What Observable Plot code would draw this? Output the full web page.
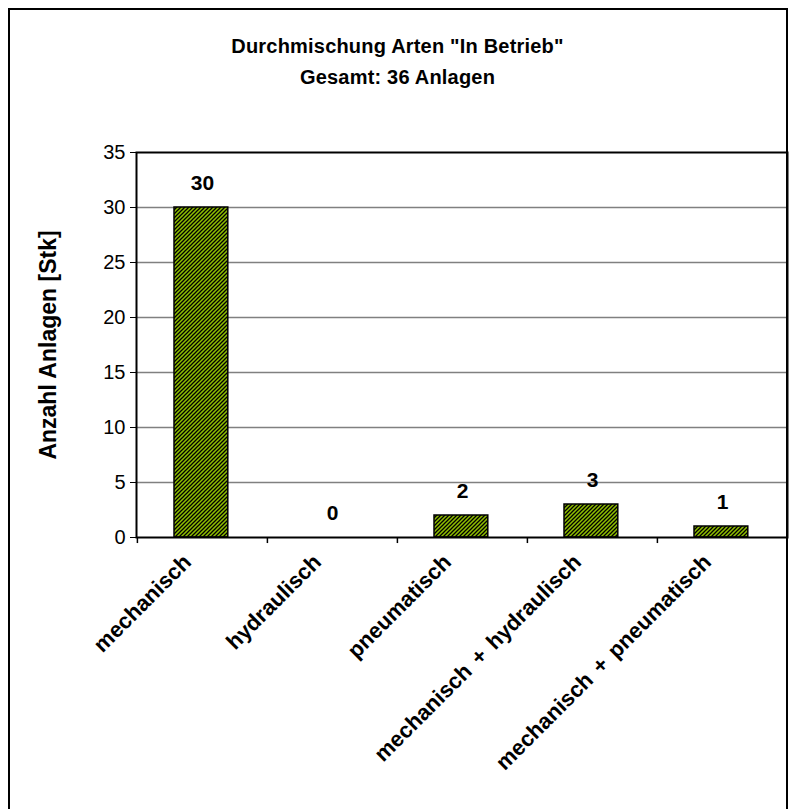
<!DOCTYPE html>
<html>
<head>
<meta charset="utf-8">
<script src="https://cdn.jsdelivr.net/npm/d3@7"></script>
<script src="https://cdn.jsdelivr.net/npm/@observablehq/plot@0.6"></script>
<style>
  html, body { margin: 0; padding: 0; background: #fff; }
  body { width: 795px; height: 809px; position: relative; overflow: hidden; font-family: "Liberation Sans", Arial, sans-serif; }
  #frame { position: absolute; left: 8px; top: 8px; width: 780px; height: 820px; border: 2px solid #000; box-sizing: border-box; pointer-events: none; }
  #title { position: absolute; left: 0; width: 795px; top: 31px; text-align: center; font-weight: bold; font-size: 20px; line-height: 31px; letter-spacing: 0.2px; color: #000; }
  #chart { position: absolute; left: 0; top: 0; }
</style>
</head>
<body>
<div id="chart"></div>
<div id="title"></div>
<div id="frame"></div>
<script>
const categories = ["mechanisch", "hydraulisch", "pneumatisch", "mechanisch + hydraulisch", "mechanisch + pneumatisch"];
const counts = [30, 0, 2, 3, 1];
const yTicks = [0, 5, 10, 15, 20, 25, 30, 35];
const gridValues = [5, 10, 15, 20, 25, 30];
const titleLines = ['Durchmischung Arten "In Betrieb"', "Gesamt: 36 Anlagen"];
const yLabel = "Anzahl Anlagen [Stk]";

const data = categories.map((c, i) => ({category: c, value: counts[i]}));

document.getElementById("title").innerHTML = titleLines.map(t => `<div>${t.replace(/"/g, "&quot;")}</div>`).join("");

const W = 795, H = 809;
const mL = 136, mR = 8, mT = 152, mB = 272;
const bw = (W - mL - mR) / categories.length;

const chart = Plot.plot({
  width: W,
  height: H,
  marginLeft: mL,
  marginRight: mR,
  marginTop: mT,
  marginBottom: mB,
  style: {fontFamily: "'Liberation Sans', Arial, sans-serif", fontSize: "20px", color: "#000", background: "transparent", overflow: "visible"},
  x: {type: "band", domain: categories, padding: 0, axis: null},
  y: {domain: [0, 35], ticks: yTicks, label: null, tickSize: 6, tickPadding: 5, tickFormat: d => String(d)},
  marks: [
    Plot.ruleY(gridValues, {stroke: "#808080", strokeWidth: 1.5}),
    Plot.barY(data, {x: "category", y: "value", fill: "url(#hatch)", stroke: "#000", strokeWidth: 1.5, insetLeft: 37, insetRight: bw - 37 - 54}),
    Plot.ruleX(categories, {x: d => d, y1: 0, y2: -0.55, dx: -bw / 2, stroke: "#000", strokeWidth: 1.5}),
    Plot.frame({stroke: "#000", strokeWidth: 2}),
    Plot.text(data, {x: "category", y: "value", text: d => String(d.value), dy: -24, fontWeight: "bold", fontSize: 21}),
    Plot.text(categories, {x: d => d, frameAnchor: "bottom", text: d => d, rotate: -45, textAnchor: "end", dx: -10, dy: 26, fontWeight: "bold", fontSize: 22, letterSpacing: 0.4}),
    Plot.text([yLabel], {frameAnchor: "left", text: d => d, rotate: -90, textAnchor: "middle", dx: -88, fontWeight: "bold", fontSize: 23})
  ]
});

const svg = chart.tagName.toLowerCase() === "svg" ? chart : chart.querySelector("svg");
const ns = "http://www.w3.org/2000/svg";
const defs = document.createElementNS(ns, "defs");
defs.innerHTML = `<pattern id="hatch" patternUnits="userSpaceOnUse" width="4" height="4">
  <rect width="4" height="4" fill="#8fbf00"></rect>
  <path d="M-1,1 l2,-2 M0,4 l4,-4 M3,5 l2,-2" stroke="#000" stroke-width="1.3"></path>
</pattern>`;
svg.insertBefore(defs, svg.firstChild);
svg.querySelectorAll("text").forEach(t => {
  if (categories.includes(t.textContent)) t.style.wordSpacing = "3px";
});
document.getElementById("chart").appendChild(chart);
</script>
</body>
</html>
